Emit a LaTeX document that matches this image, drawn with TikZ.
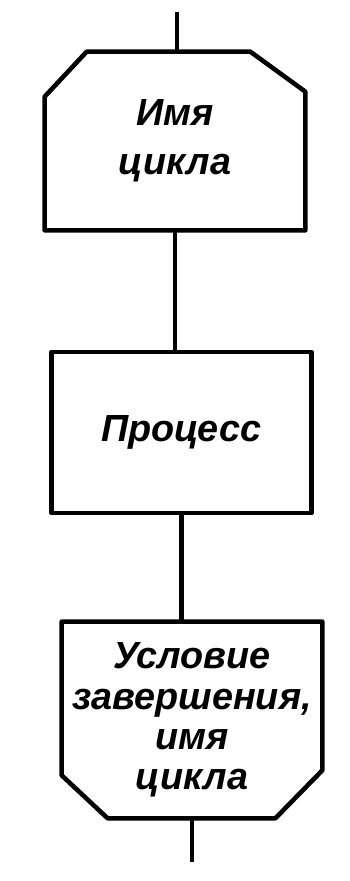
\documentclass[tikz,border=0pt]{standalone}
\usepackage{fontspec}
\setmainfont{Liberation Sans}
\usetikzlibrary{calc}
\tikzset{
  block/.style={minimum width=5.2cm, align=center, inner sep=0pt, font=\fontsize{21.5}{23}\selectfont\bfseries\itshape},
  outline/.style={line width=2.6pt, draw=black, line join=round},
  link/.style={line width=2.6pt, draw=black}
}

\begin{document}
\begin{tikzpicture}[x=0.02cm,y=-0.02cm]
\useasboundingbox (0,0) rectangle (349,881);
\coordinate (in) at (177,12);
\node[block, minimum height=3.56cm] (start) at (175,141) {Имя\\[5pt]цикла};
\node[block, outline, minimum height=3.22cm] (proc) at (181.5,432.5) {Процесс};
\node[block, minimum height=3.92cm] (stop) at (192,720) {Условие\\завершения,\\имя\\цикла};
\coordinate (out) at (188,862);
% loop limit, opening
\draw[outline] (start.south west) -- ($(start.north west)+(0,45)$) -- ($(start.north west)+(42,0)$)
  -- ($(start.north east)+(-55,0)$) -- ($(start.north east)+(0,40)$) -- (start.south east) -- cycle;
% loop limit, closing
\draw[outline] (stop.north west) -- ($(stop.south west)+(0,-43)$) -- ($(stop.south west)+(46,0)$)
  -- ($(stop.south east)+(-47,0)$) -- ($(stop.south east)+(0,-48)$) -- (stop.north east) -- cycle;
\draw[link] (in) -- (in |- start.north);
\foreach \u/\v in {start/proc,proc/stop} {\draw[link] (\u) -- (\u |- \v.north);}
\draw[link] (stop) -- (stop |- out);
\end{tikzpicture}
\end{document}
